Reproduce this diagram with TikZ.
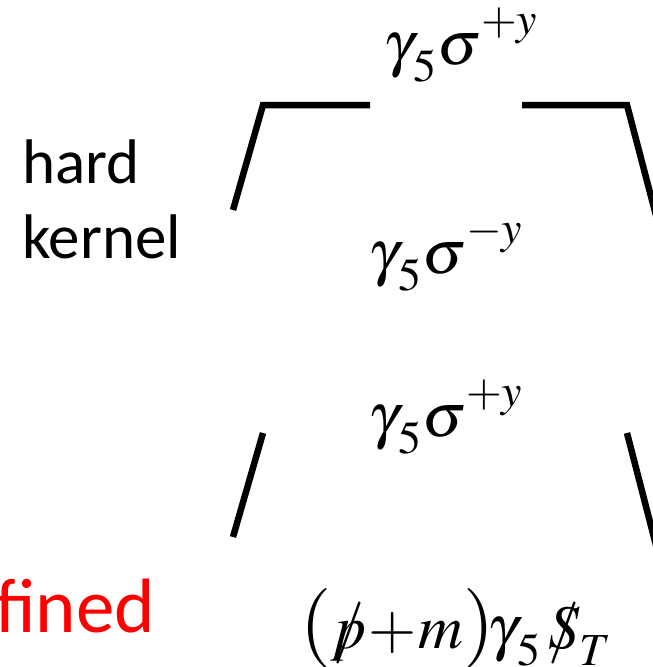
\documentclass[tikz,border=0pt]{standalone}
\usepackage{mathptmx}
\usepackage[no-math]{fontspec}
\setmainfont{Carlito}
\usetikzlibrary{positioning}
\definecolor{Ink}{HTML}{000000}
\definecolor{AlertRed}{HTML}{FF0000}
\newcommand{\gfive}{\gamma_{\smash{\raisebox{-0.14em}{$\scriptstyle\,5$}}}}
\newcommand{\sigy}[1]{\sigma^{\raisebox{0.12em}{$\scriptstyle#1y$}}}
\newcommand{\fsl}[1]{{\ooalign{$#1$\cr\hidewidth$/$\hidewidth\cr}}}
\newcommand{\tallparen}[1]{\mbox{\fontsize{80}{90}\selectfont$#1$}}

\begin{document}
\begin{tikzpicture}[x=1pt,y=-1pt,every node/.style={inner sep=0pt,outer sep=0pt},
    vertexline/.style={draw=Ink,line width=6.5pt},
    mathlabel/.style={anchor=base west,font=\fontsize{62}{74}\selectfont},
    sidelabel/.style={anchor=base west,font=\fontsize{63}{75}\selectfont,align=left}]
    \useasboundingbox (0,0) rectangle (653,667);
    \clip (0,0) rectangle (653,667);
    % upper vertex
    \coordinate (ul0) at (233,210);
    \coordinate (ul1) at (263,105);
    \coordinate (ul2) at (370,105);
    \coordinate (ur0) at (522,105);
    \coordinate (ur1) at (627,105);
    \coordinate (ur2) at (658,223);
    \draw[vertexline,line join=miter] (ul0) -- (ul1) -- (ul2);
    \draw[vertexline,line join=miter] (ur0) -- (ur1) -- (ur2);
    % lower vertex
    \coordinate (ll0) at (263,433);
    \coordinate (ll1) at (233,537);
    \coordinate (lr0) at (627,433);
    \coordinate (lr1) at (658,553);
    \draw[vertexline] (ll0) -- (ll1);
    \draw[vertexline] (lr0) -- (lr1);
    % labels
    \node[mathlabel] (topgamma) at (383,64) {$\gfive\sigy{+}$};
    \node[mathlabel] (midgamma) at (368,273) {$\gfive\sigy{-}$};
    \node[mathlabel] (lowgamma) at (368,436) {$\gfive\sigy{+}$};
    \node[mathlabel] (projector) at (300,648)
      {$\tallparen{(}\fsl{p}\!+\!m\tallparen{)}\!\gfive\,\fsl{S}_T$};
    \node[sidelabel] (hard) at (22,258) {hard\\kernel};
    \node[anchor=base west,font=\fontsize{77}{90}\selectfont,text=AlertRed] (defined) at (-5,632) {fined};
\end{tikzpicture}
\end{document}
